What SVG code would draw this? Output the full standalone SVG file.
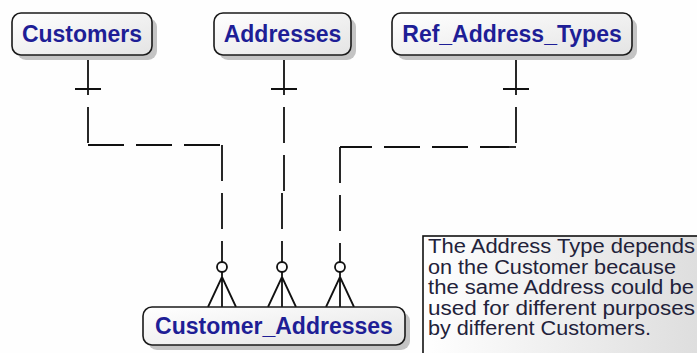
<svg xmlns="http://www.w3.org/2000/svg" width="697" height="353" viewBox="0 0 697 353">
<defs>
<linearGradient id="ent" x1="0" y1="0" x2="1" y2="1">
<stop offset="0" stop-color="#ffffff"/>
<stop offset="1" stop-color="#e4e4e4"/>
</linearGradient>
<linearGradient id="note" x1="0" y1="0" x2="1" y2="0">
<stop offset="0" stop-color="#ffffff"/>
<stop offset="1" stop-color="#dcdcdc"/>
</linearGradient>
<style>
.box{fill:url(#ent);stroke:#1a1a1a;stroke-width:1.6}
.shadow{fill:#c4c4c4}
.lbl{font-family:"Liberation Sans",Arial,sans-serif;font-weight:bold;font-size:23px;fill:#1e1e96;text-anchor:middle}
.ln{stroke:#111;stroke-width:1.8;fill:none}
.dash{stroke:#111;stroke-width:1.8;fill:none;stroke-dasharray:36 12}
.nt{font-family:"Liberation Sans",Arial,sans-serif;font-size:20px;fill:#22223a}
</style>
</defs>
<rect width="697" height="353" fill="#fefefe"/>

<g id="connectors">
<!-- Customers -> Customer_Addresses -->
<path class="ln" d="M88,55 V95 M75,89 H101"/>
<path class="dash" d="M88,95 V145" stroke-dashoffset="36"/>
<path class="dash" d="M88,145 H222"/>
<path class="dash" d="M222,145 V262"/>
<!-- Addresses -> Customer_Addresses -->
<path class="ln" d="M284,55 V95 M271,89 H297"/>
<path class="dash" d="M284,95 V191" stroke-dashoffset="36"/>
<path class="dash" d="M282,191 V262" stroke-dashoffset="-2"/>
<!-- Ref_Address_Types -> Customer_Addresses -->
<path class="ln" d="M516,55 V95 M503,89 H529"/>
<path class="dash" d="M516,95 V147" stroke-dashoffset="36"/>
<path class="dash" d="M516,147 H340"/>
<path class="dash" d="M340,147 V262"/>
<!-- crow's feet -->
<g class="ln">
<circle cx="222" cy="267" r="5"/>
<path d="M222,272 V307 M222,277 L208,307 M222,277 L236,307"/>
<circle cx="282" cy="267" r="5"/>
<path d="M282,272 V307 M282,277 L268,307 M282,277 L296,307"/>
<circle cx="340" cy="267" r="5"/>
<path d="M340,272 V307 M340,277 L326,307 M340,277 L354,307"/>
</g>
</g>

<g id="customers">
<rect class="shadow" x="17" y="18" width="140" height="42" rx="9"/>
<rect class="box" x="12" y="13" width="140" height="42" rx="9"/>
<text class="lbl" x="82" y="42">Customers</text>
</g>

<g id="addresses">
<rect class="shadow" x="219" y="18" width="137" height="42" rx="9"/>
<rect class="box" x="214" y="13" width="137" height="42" rx="9"/>
<text class="lbl" x="282.5" y="42">Addresses</text>
</g>

<g id="ref_address_types">
<rect class="shadow" x="397" y="18" width="240" height="42" rx="9"/>
<rect class="box" x="392" y="13" width="240" height="42" rx="9"/>
<text class="lbl" x="512" y="42">Ref_Address_Types</text>
</g>

<g id="customer_addresses">
<rect class="shadow" x="148" y="312" width="262" height="38" rx="9"/>
<rect class="box" x="143" y="307" width="262" height="38" rx="9"/>
<text class="lbl" x="274" y="334">Customer_Addresses</text>
</g>

<g id="note">
<rect x="423" y="236" width="290" height="130" fill="url(#note)" stroke="#111" stroke-width="1.6"/>
<text class="nt" x="428" y="253" textLength="267" lengthAdjust="spacingAndGlyphs">The Address Type depends</text>
<text class="nt" x="428" y="273.5" textLength="248" lengthAdjust="spacingAndGlyphs">on the Customer because</text>
<text class="nt" x="428" y="294" textLength="266" lengthAdjust="spacingAndGlyphs">the same Address could be</text>
<text class="nt" x="428" y="314.5" textLength="267" lengthAdjust="spacingAndGlyphs">used for different purposes</text>
<text class="nt" x="428" y="335" textLength="223" lengthAdjust="spacingAndGlyphs">by different Customers.</text>
</g>
</svg>
